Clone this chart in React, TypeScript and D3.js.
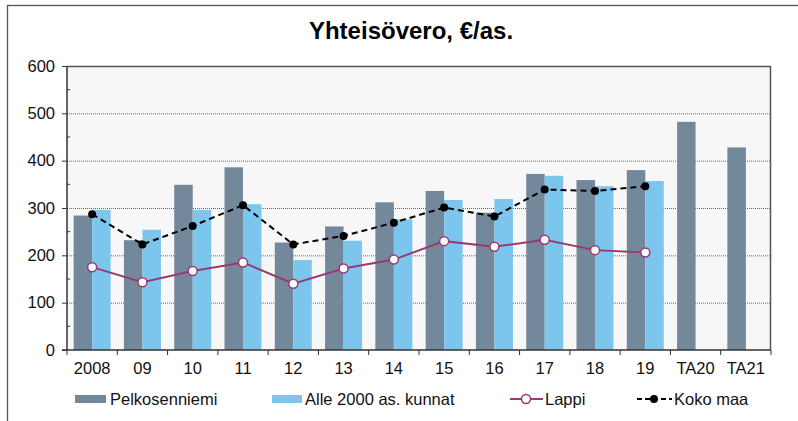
import React, { useEffect, useRef } from "react";
import * as d3 from "d3";

const categories = ["2008", "09", "10", "11", "12", "13", "14", "15", "16", "17", "18", "19", "TA20", "TA21"];
const pelkosenniemi = [284, 232, 349, 386, 227, 261, 312, 336, 290, 372, 359, 380, 482, 428];
const alle2000 = [296, 254, 296, 308, 190, 231, 276, 317, 319, 368, 346, 357, null, null];
const lappi = [175, 143, 167, 185, 140, 172, 191, 230, 218, 233, 211, 206];
const kokoMaa = [287, 223, 262, 306, 223, 241, 269, 301, 282, 339, 336, 346];
const yTicks = [0, 100, 200, 300, 400, 500, 600];

const W = 798;
const H = 421;
const margin = { left: 67, top: 66, right: 771, bottom: 350 };
const font = "Arial, 'Liberation Sans', sans-serif";

const App = () => {
  const svgRef = useRef<SVGSVGElement>(null);

  useEffect(() => {
    const svg = d3.select(svgRef.current);
    svg.selectAll("*").remove();

    const x = d3.scaleBand().domain(categories).range([margin.left, margin.right]);
    const y = d3.scaleLinear().domain([0, 600]).range([margin.bottom, margin.top]);
    const inner = d3.scaleBand().domain(["p", "a"]).range([0, x.bandwidth()]).paddingOuter(0.36);
    const cx = (c: string) => (x(c) as number) + x.bandwidth() / 2;

    // outer frame
    svg.append("rect").attr("x", 7.5).attr("y", 5.5).attr("width", 900).attr("height", 500)
      .attr("fill", "white").attr("stroke", "#555").attr("stroke-width", 1.3);

    svg.append("text").attr("x", 411).attr("y", 39).attr("text-anchor", "middle")
      .style("font", `bold 24px ${font}`).attr("fill", "#000").text("Yhteisövero, €/as.");

    // plot background
    svg.append("rect").attr("x", margin.left).attr("y", margin.top)
      .attr("width", margin.right - margin.left).attr("height", margin.bottom - margin.top)
      .attr("fill", "#f7f7f7");

    // gridlines
    svg.append("g").selectAll("line").data(yTicks.filter((t) => t > 0 && t < 600)).join("line")
      .attr("x1", margin.left).attr("x2", margin.right)
      .attr("y1", (d) => y(d) + 0.5).attr("y2", (d) => y(d) + 0.5)
      .attr("stroke", "#666").attr("stroke-width", 1).attr("stroke-dasharray", "1,1");

    // plot border top/right
    svg.append("path")
      .attr("d", `M${margin.left},${margin.top + 0.5}H${margin.right - 0.5}V${margin.bottom}`)
      .attr("fill", "none").attr("stroke", "#555").attr("stroke-width", 1.5);

    // bars
    const gBars = svg.append("g");
    gBars.selectAll(".p").data(categories).join("rect").attr("class", "p")
      .attr("x", (c) => (x(c) as number) + (inner("p") as number))
      .attr("width", inner.bandwidth())
      .attr("y", (c, i) => y(pelkosenniemi[i]))
      .attr("height", (c, i) => y(0) - y(pelkosenniemi[i]))
      .attr("fill", "#74889c");
    gBars.selectAll(".a").data(categories.filter((c, i) => alle2000[i] != null)).join("rect").attr("class", "a")
      .attr("x", (c) => (x(c) as number) + (inner("a") as number))
      .attr("width", inner.bandwidth())
      .attr("y", (c, i) => y(alle2000[i] as number))
      .attr("height", (c, i) => y(0) - y(alle2000[i] as number))
      .attr("fill", "#7cc6ee");

    // lines
    const line = d3.line<number>().x((d, i) => cx(categories[i])).y((d) => y(d));
    svg.append("path").attr("d", line(kokoMaa)).attr("fill", "none")
      .attr("stroke", "#000").attr("stroke-width", 2).attr("stroke-dasharray", "6,4");
    svg.append("g").selectAll("circle").data(kokoMaa).join("circle")
      .attr("cx", (d, i) => cx(categories[i])).attr("cy", (d) => y(d)).attr("r", 4).attr("fill", "#000");

    svg.append("path").attr("d", line(lappi)).attr("fill", "none")
      .attr("stroke", "#993a72").attr("stroke-width", 2);
    svg.append("g").selectAll("circle").data(lappi).join("circle")
      .attr("cx", (d, i) => cx(categories[i])).attr("cy", (d) => y(d)).attr("r", 4.5)
      .attr("fill", "#fff").attr("stroke", "#993a72").attr("stroke-width", 1.5);

    // y axis
    const yAxis = svg.append("g").attr("transform", `translate(${margin.left},0)`)
      .call(d3.axisLeft(y).tickValues(yTicks).tickSize(5).tickPadding(7));
    yAxis.select(".domain").remove();
    yAxis.append("line").attr("x1", 0).attr("x2", 0).attr("y1", margin.top).attr("y2", margin.bottom)
      .attr("stroke", "#333").attr("stroke-width", 1.5);
    yAxis.selectAll(".tick line").attr("stroke", "#333");
    yAxis.selectAll("text").style("font", `16.5px ${font}`).attr("fill", "#111");
    yAxis.selectAll(".minor").data(d3.range(50, 600, 100)).join("line").attr("class", "minor")
      .attr("x1", 0).attr("x2", 3).attr("y1", (d) => y(d)).attr("y2", (d) => y(d)).attr("stroke", "#333");

    // x axis
    const xAxis = svg.append("g").attr("transform", `translate(0,${margin.bottom})`)
      .call(d3.axisBottom(x).tickSize(0).tickPadding(12));
    xAxis.select(".domain").remove();
    xAxis.append("line").attr("x1", margin.left - 5).attr("x2", margin.right).attr("stroke", "#333").attr("stroke-width", 1.5);
    xAxis.selectAll(".sep").data(categories.concat(["end"])).join("line").attr("class", "sep")
      .attr("x1", (c, i) => margin.left + i * x.step()).attr("x2", (c, i) => margin.left + i * x.step())
      .attr("y1", 0).attr("y2", 5).attr("stroke", "#333");
    xAxis.selectAll(".tick text").style("font", `16.5px ${font}`).attr("fill", "#111");

    // legend
    const lg = svg.append("g").style("font", `16.5px ${font}`).attr("fill", "#111");
    const ly = 399;
    lg.append("rect").attr("x", 75).attr("y", ly - 4).attr("width", 31).attr("height", 8).attr("fill", "#74889c");
    lg.append("text").attr("x", 110).attr("y", ly + 6).text("Pelkosenniemi");
    lg.append("rect").attr("x", 272).attr("y", ly - 4).attr("width", 30).attr("height", 8).attr("fill", "#7cc6ee");
    lg.append("text").attr("x", 305).attr("y", ly + 6).text("Alle 2000 as. kunnat");
    lg.append("line").attr("x1", 510).attr("x2", 543).attr("y1", ly).attr("y2", ly).attr("stroke", "#993a72").attr("stroke-width", 2);
    lg.append("circle").attr("cx", 526).attr("cy", ly).attr("r", 4.5).attr("fill", "#fff").attr("stroke", "#993a72").attr("stroke-width", 1.5);
    lg.append("text").attr("x", 545).attr("y", ly + 6).text("Lappi");
    lg.append("line").attr("x1", 637).attr("x2", 672).attr("y1", ly).attr("y2", ly).attr("stroke", "#000").attr("stroke-width", 2).attr("stroke-dasharray", "5,3");
    lg.append("circle").attr("cx", 654).attr("cy", ly).attr("r", 4).attr("fill", "#000");
    lg.append("text").attr("x", 674).attr("y", ly + 6).text("Koko maa");
  }, []);

  return (
    <svg ref={svgRef} width={W} height={H}
      style={{ position: "absolute", left: 0, top: 0, background: "white", display: "block" }} />
  );
};

export default App;
